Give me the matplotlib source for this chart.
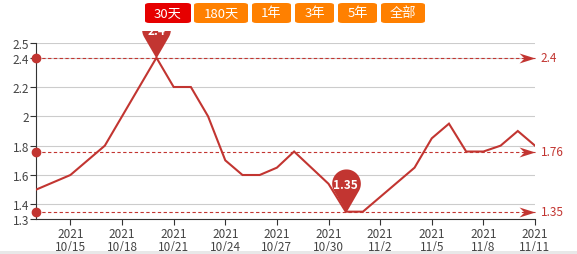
import numpy as np
import pandas as pd
import matplotlib
matplotlib.use("Agg")
import matplotlib.pyplot as plt
import matplotlib.dates as mdates
from matplotlib.path import Path
from matplotlib.patches import Rectangle, FancyBboxPatch

plt.rcParams['font.family'] = ['Noto Sans CJK SC', 'DejaVu Sans']

# data
dates = ["2021-10-13", "2021-10-15", "2021-10-17", "2021-10-20", "2021-10-21",
         "2021-10-22", "2021-10-23", "2021-10-24", "2021-10-25", "2021-10-26",
         "2021-10-27", "2021-10-28", "2021-10-30", "2021-10-31", "2021-11-01",
         "2021-11-04", "2021-11-05", "2021-11-06", "2021-11-07", "2021-11-08",
         "2021-11-09", "2021-11-10", "2021-11-11"]
values = [1.50, 1.60, 1.80, 2.40, 2.20,
          2.20, 2.00, 1.70, 1.60, 1.60,
          1.65, 1.76, 1.54, 1.35, 1.35,
          1.65, 1.85, 1.95, 1.76, 1.76,
          1.80, 1.90, 1.80]

mark_lines = [2.4, 1.76, 1.35]
mark_labels = ["2.4", "1.76", "1.35"]
yticks = [1.3, 1.4, 1.6, 1.8, 2.0, 2.2, 2.4, 2.5]
ytick_labels = ["1.3", "1.4", "1.6", "1.8", "2", "2.2", "2.4", "2.5"]
xtick_dates = ["2021-10-15", "2021-10-18", "2021-10-21", "2021-10-24", "2021-10-27",
               "2021-10-30", "2021-11-02", "2021-11-05", "2021-11-08", "2021-11-11"]
buttons = ["30天", "180天", "1年", "3年", "5年", "全部"]

RED = "#c23531"
W, H = 577, 255

x = mdates.date2num(pd.to_datetime(dates))
xt = mdates.date2num(pd.to_datetime(xtick_dates))
xmin, xmax = x[0], x[-1]

fig = plt.figure(figsize=(W / 100, H / 100), dpi=100)
ax = fig.add_axes([36 / W, 1 - 220 / H, 499 / W, 176 / H])
ax.set_xlim(xmin, xmax)
ax.set_ylim(1.3, 2.5)

# grid
for v in yticks:
    ax.axhline(v, color="#cccccc", lw=0.8, zorder=1)

ax.plot(x, values, color=RED, lw=1.5, zorder=3, solid_joinstyle="miter")

# average / max / min lines
arrow = Path([(0, 0), (-16, 5), (-11, 0), (-16, -5), (0, 0)],
             [Path.MOVETO, Path.LINETO, Path.LINETO, Path.LINETO, Path.CLOSEPOLY])
for v, lab in zip(mark_lines, mark_labels):
    ax.plot([xmin, xmax], [v, v], color=RED, lw=0.8, dashes=(3, 2.2), zorder=2, clip_on=False)
    ax.plot([xmin], [v], "o", color=RED, ms=6, clip_on=False, zorder=4)
    ax.plot([xmax], [v], marker=arrow, color=RED, ms=23, mew=0, clip_on=False, zorder=4)
    ax.annotate(lab, (xmax, v), xytext=(4, 0), textcoords="offset points",
                va="center", ha="left", fontsize=8.5, color=RED, annotation_clip=False)

# pin markers for max and min
ang = np.linspace(np.radians(-30), np.radians(210), 40)
pv = [(0, 0)] + [(np.cos(a), 2 + np.sin(a)) for a in ang] + [(0, 0)]
pin = Path(pv)
imax = int(np.argmax(values))
imin = int(np.argmin(values))
for i in (imax, imin):
    ax.plot([x[i]], [values[i]], marker=pin, color=RED, ms=62, mew=0, clip_on=False, zorder=5)
    ax.annotate(f"{values[i]:g}", (x[i], values[i]), xytext=(0, 19.5),
                textcoords="offset points", ha="center", va="center",
                fontsize=8.5, color="white", fontweight="bold",
                annotation_clip=False, zorder=6)

ax.set_yticks(yticks)
ax.set_yticklabels(ytick_labels)
ax.set_xticks(xt)
ax.set_xticklabels([f"2021\n{d.month}/{d.day}" for d in pd.to_datetime(xtick_dates)],
                   linespacing=1.0)
ax.tick_params(axis="both", labelsize=8.5, colors="#333333", length=4, width=0.8,
               labelcolor="#444444")
ax.tick_params(axis="x", pad=2)
ax.tick_params(axis="y", pad=1)
for s in ("top", "right"):
    ax.spines[s].set_visible(False)
for s in ("left", "bottom"):
    ax.spines[s].set_color("#333333")
    ax.spines[s].set_linewidth(0.8)

# white band hides top of the max pin, buttons drawn on it
fig.add_artist(Rectangle((0, 1 - 32 / H), 1, 32 / H, transform=fig.transFigure,
                         facecolor="white", edgecolor="none", zorder=10))
fig.add_artist(Rectangle((0, 0), 1, 3 / H, transform=fig.transFigure,
                         facecolor="#e8e8e8", edgecolor="none", zorder=10))

bx = [(145, 191), (194, 248), (252, 291), (295, 334), (338, 377), (381, 425)]
for (x0, x1), lab in zip(bx, buttons):
    col = "#e60000" if lab == "30天" else "#ff8000"
    fig.add_artist(FancyBboxPatch((x0 / W, 1 - 24 / H), (x1 - x0) / W, 20 / H,
                                  boxstyle="round,pad=0,rounding_size=0.008",
                                  transform=fig.transFigure, facecolor=col,
                                  edgecolor="none", zorder=11))
    fig.text((x0 + x1) / 2 / W, 1 - 14 / H, lab, ha="center", va="center",
             color="white", fontsize=9.5, zorder=12)

fig.savefig("out.png", dpi=100)
